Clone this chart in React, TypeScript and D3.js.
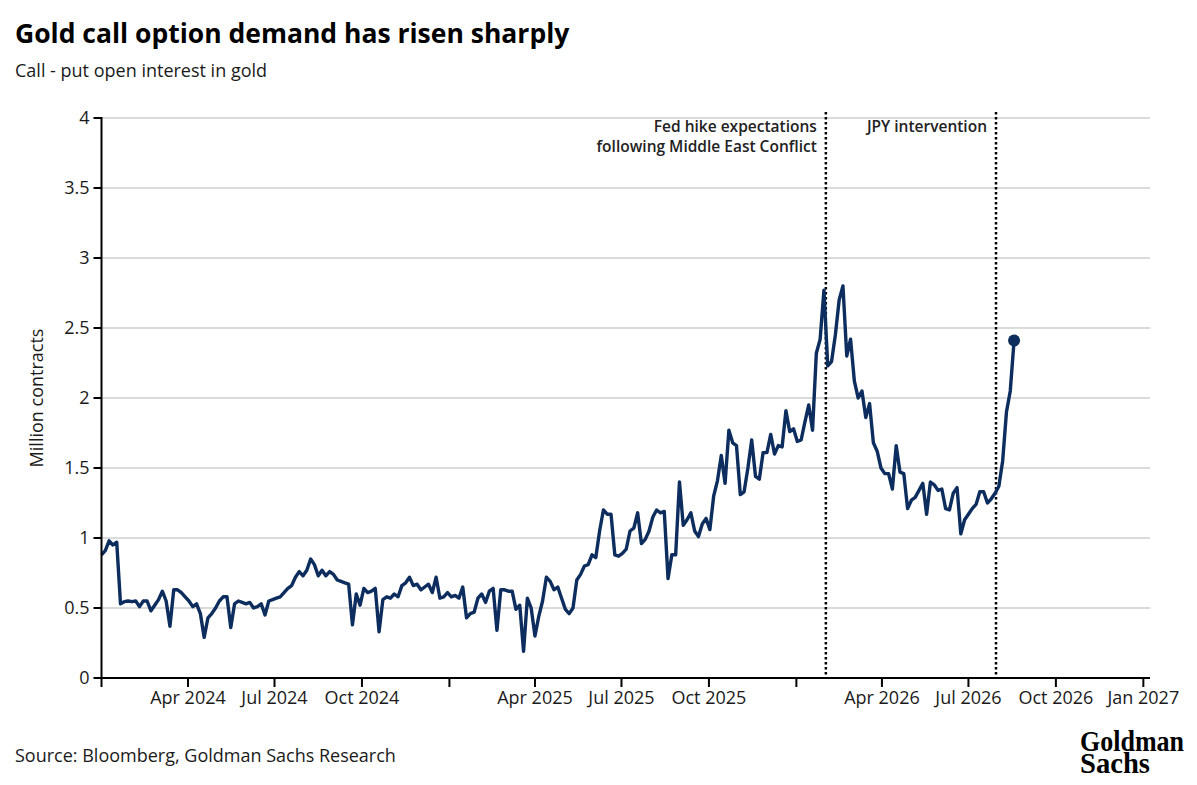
import * as d3 from "d3";

// call - put open interest (million contracts), one reading every 4 days from 1 Jan 2024
const startDate = new Date(2024, 0, 1);
const stepDays = 4;

const oi2024 = [
  0.88, 0.91, 0.98, 0.95, 0.97, 0.53, 0.545, 0.55, 0.545, 0.55,
  0.51, 0.55, 0.55, 0.48, 0.52, 0.56, 0.62, 0.55, 0.37, 0.63,
  0.63, 0.61, 0.58, 0.55, 0.51, 0.53, 0.46, 0.29, 0.43, 0.46,
  0.5, 0.55, 0.58, 0.58, 0.36, 0.53, 0.55, 0.54, 0.53, 0.54,
  0.5, 0.51, 0.53, 0.45, 0.55, 0.56, 0.57, 0.58, 0.61, 0.64,
  0.66, 0.72, 0.76, 0.73, 0.77, 0.85, 0.81, 0.73, 0.77, 0.73,
  0.76, 0.74, 0.7, 0.69, 0.68, 0.67, 0.38, 0.6, 0.52, 0.64,
  0.61, 0.62, 0.64, 0.33, 0.56, 0.58, 0.57, 0.6, 0.58, 0.66,
  0.68, 0.72, 0.66, 0.67, 0.63, 0.65, 0.67, 0.61, 0.72, 0.57,
  0.58, 0.61,
];

const oi2025 = [
  0.58, 0.59, 0.57, 0.65, 0.43, 0.46, 0.47, 0.57,
  0.6, 0.54, 0.62, 0.64, 0.34, 0.63, 0.63, 0.62, 0.62, 0.49,
  0.52, 0.19, 0.57, 0.5, 0.3, 0.44, 0.55, 0.72, 0.69, 0.63,
  0.65, 0.57, 0.49, 0.46, 0.5, 0.7, 0.74, 0.8, 0.81, 0.88,
  0.86, 1.05, 1.2, 1.17, 1.17, 0.88, 0.87, 0.89, 0.92, 1.05,
  1.07, 1.18, 0.96, 0.99, 1.05, 1.15, 1.2, 1.18, 1.19, 0.71,
  0.88, 0.88, 1.4, 1.09, 1.13, 1.18, 1.05, 1.01, 1.1, 1.14,
  1.06, 1.3, 1.41, 1.59, 1.39, 1.77, 1.68, 1.66, 1.31, 1.33,
  1.5, 1.7, 1.44, 1.42, 1.61, 1.61, 1.74, 1.6, 1.66, 1.65,
  1.91, 1.76, 1.78,
];

const oi2026 = [
  1.69, 1.7, 1.83, 1.95, 1.77, 2.32, 2.42,
  2.77, 2.23, 2.26, 2.45, 2.7, 2.8, 2.3, 2.42, 2.12, 2.0,
  2.05, 1.86, 1.96, 1.68, 1.62, 1.5, 1.46, 1.46, 1.35, 1.66,
  1.47, 1.46, 1.21, 1.27, 1.29, 1.34, 1.39, 1.17, 1.4, 1.38,
  1.34, 1.35, 1.21, 1.2, 1.32, 1.36, 1.03, 1.13, 1.17, 1.21,
  1.24, 1.33, 1.33, 1.25, 1.28, 1.32, 1.37, 1.55, 1.9, 2.05, 2.41,
];

const eventDates = ["2026-02-01", "2026-07-30"];
const eventLabels = [
  ["Fed hike expectations", "following Middle East Conflict"],
  ["JPY intervention"],
];

const yTicks = [0, 0.5, 1, 1.5, 2, 2.5, 3, 3.5, 4];
const xTickDates = [
  "2024-01-01", "2024-04-01", "2024-07-01", "2024-10-01",
  "2025-01-01", "2025-04-01", "2025-07-01", "2025-10-01",
  "2026-01-01", "2026-04-01", "2026-07-01", "2026-10-01", "2027-01-01",
];
const xTickLabels = [
  "", "Apr 2024", "Jul 2024", "Oct 2024",
  "", "Apr 2025", "Jul 2025", "Oct 2025",
  "", "Apr 2026", "Jul 2026", "Oct 2026", "Jan 2027",
];

const W = 1197;
const H = 785;
const font = "'Open Sans', Lato, sans-serif";
const navy = "#0c2d5e";
const ink = "#1a1a1a";

const parse = d3.timeParse("%Y-%m-%d");

export default function App() {
  const values = [...oi2024, ...oi2025, ...oi2026];
  const series = values.map((v, i) => ({
    date: d3.timeDay.offset(startDate, i * stepDays),
    value: v,
  }));

  const x = d3
    .scaleTime()
    .domain([new Date(2024, 0, 1), new Date(2027, 0, 8)])
    .range([101.5, 1150]);
  const y = d3.scaleLinear().domain([0, 4]).range([678, 118]);

  const line = d3
    .line<{ date: Date; value: number }>()
    .x(d => x(d.date))
    .y(d => y(d.value));

  const last = series[series.length - 1];
  const x0 = x.range()[0];
  const x1 = x.range()[1];

  return (
    <svg
      width={W}
      height={H}
      viewBox={`0 0 ${W} ${H}`}
      style={{ position: "absolute", left: 0, top: 0, background: "#fff" }}
      fontFamily={font}
    >
      <text x={15} y={43} fontSize={26.5} fontWeight={700} fill="#000">
        Gold call option demand has risen sharply
      </text>
      <text x={15} y={77} fontSize={18} fill={ink}>
        Call - put open interest in gold
      </text>

      {/* gridlines */}
      {yTicks.map(t => (
        <line key={t} x1={x0} x2={x1} y1={y(t)} y2={y(t)} stroke="#cfcfcf" strokeWidth={1.5} />
      ))}

      {/* event markers */}
      {eventDates.map((d, i) => {
        const ex = x(parse(d)!);
        return (
          <g key={d}>
            <line x1={ex} x2={ex} y1={112} y2={678} stroke="#000" strokeWidth={2.5} strokeDasharray="2.5 2.5" />
            {eventLabels[i].map((t, j) => (
              <text key={t} x={ex - 9} y={132 + j * 20} fontSize={15.5} fontWeight={600} textAnchor="end" fill="#222">
                {t}
              </text>
            ))}
          </g>
        );
      })}

      <path d={line(series) ?? ""} fill="none" stroke={navy} strokeWidth={3.4} strokeLinejoin="round" />
      <circle cx={x(last.date)} cy={y(last.value)} r={6} fill={navy} />

      {/* y axis */}
      <line x1={x0} x2={x0} y1={y(4) - 1} y2={y(0) + 1} stroke="#000" strokeWidth={2} />
      {yTicks.map(t => (
        <g key={t}>
          <line x1={x0 - 8} x2={x0} y1={y(t)} y2={y(t)} stroke="#000" strokeWidth={2} />
          <text x={x0 - 12} y={y(t)} dy="0.35em" fontSize={18} textAnchor="end" fill={ink}>
            {d3.format("~g")(t)}
          </text>
        </g>
      ))}
      <text transform={`translate(43,${(y(0) + y(4)) / 2}) rotate(-90)`} fontSize={18} textAnchor="middle" fill={ink}>
        Million contracts
      </text>

      {/* x axis */}
      <line x1={x0 - 1} x2={x1} y1={y(0)} y2={y(0)} stroke="#000" strokeWidth={2} />
      {xTickDates.map((d, i) => {
        const tx = x(parse(d)!);
        return (
          <g key={d}>
            <line x1={tx} x2={tx} y1={y(0)} y2={y(0) + 9} stroke="#000" strokeWidth={2} />
            <text x={tx} y={704} fontSize={18} textAnchor="middle" fill={ink}>
              {xTickLabels[i]}
            </text>
          </g>
        );
      })}

      <text x={15} y={762} fontSize={18} fill={ink}>
        Source: Bloomberg, Goldman Sachs Research
      </text>

      <text fontFamily="'Liberation Serif', 'DejaVu Serif', serif" fontWeight={700} fill="#000" fontSize={29}>
        <tspan x={1080} y={751} textLength={104} lengthAdjust="spacingAndGlyphs">
          Goldman
        </tspan>
        <tspan x={1080} y={773} textLength={70} lengthAdjust="spacingAndGlyphs">
          Sachs
        </tspan>
      </text>
    </svg>
  );
}
